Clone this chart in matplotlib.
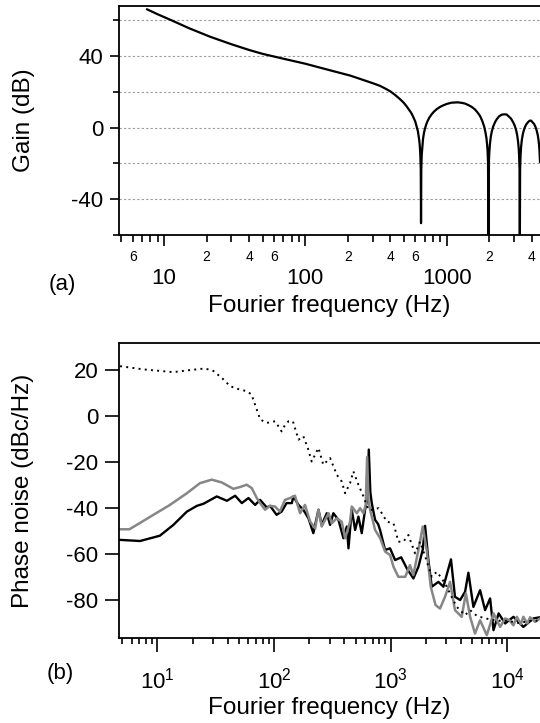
import numpy as np
import matplotlib
matplotlib.use("Agg")
import matplotlib.pyplot as plt
from matplotlib.ticker import LogLocator, MultipleLocator, FuncFormatter, NullFormatter

plt.rcParams['font.family'] = ['Liberation Sans', 'DejaVu Sans']
plt.rcParams['axes.unicode_minus'] = False

# (a) loop gain
gain_freq = [7.6, 9, 11.3, 15, 21.2, 30, 40, 50, 70, 100, 150, 207, 240, 280, 310, 338,
             370, 400, 435, 467, 495, 520, 560, 580, 600, 625, 640, 645, 650, 655, 658,
             661, 666, 680, 690, 700, 715, 730, 750, 780, 810, 850, 900, 950, 1000, 1080,
             1130, 1200, 1280, 1350, 1420, 1500, 1580, 1650, 1720, 1780, 1840, 1880,
             1910, 1930, 1945, 1960, 1974, 1990, 2000, 2020, 2050, 2080, 2130, 2200,
             2270, 2350, 2450, 2550, 2650, 2750, 2850, 2950, 3030, 3100, 3150, 3200,
             3230, 3250, 3275, 3290, 3305, 3330, 3360, 3400, 3450, 3500, 3570, 3650,
             3750, 3850, 3950, 4050, 4150, 4250, 4330, 4400, 4450, 4500, 4530, 4570]
gain_db = [66.1, 63.4, 60.0, 55.6, 50.8, 46.6, 43.4, 41.2, 38.5, 35.7, 32.0, 29.1, 27.4,
           25.6, 24.4, 23.3, 21.7, 20.2, 18.0, 15.9, 14.0, 11.9, 8.3, 5.9, 3.2, -2.0,
           -7.4, -10.3, -14.6, -23.1, -53.5, -23.2, -14.9, -6.3, -3.1, -0.9, 1.6, 3.4,
           5.3, 7.3, 8.8, 10.3, 11.6, 12.5, 13.2, 13.9, 14.0, 14.1, 13.8, 13.4, 12.6,
           11.6, 10.2, 8.5, 6.5, 3.9, 0.6, -2.7, -6.0, -9.5, -12.8, -19.6, -70, -18.4,
           -14.2, -9.5, -5.2, -2.5, 0.5, 3.1, 4.9, 6.3, 7.2, 7.4, 7.3, 6.2, 5.0, 3.0,
           1.0, -1.6, -4.2, -8.1, -11.6, -15.3, -23.7, -70, -23.9, -15.4, -10.7, -6.9,
           -4.0, -1.9, 0.1, 1.7, 2.9, 3.8, 3.9, 2.9, 2.0, 0.3, -1.7, -4.0, -6.4, -9.7,
           -12.8, -19.2]

# (b) phase noise, dotted trace
free_freq = [4.79, 7.59, 13.7, 19.1, 25.6, 30.2, 36, 42, 47.9, 58.3, 64, 71.1, 76, 86.5,
             102, 109, 116, 125, 133, 145, 162, 178, 195, 210, 240, 264, 302, 345, 380,
             406, 448, 478, 528, 583, 643, 710, 784, 838, 925, 1055, 1161, 1282, 1415,
             1616, 1783, 2000, 2245, 2477, 2735, 3020, 3350, 3680, 4333, 4786, 5500,
             6500, 8000, 10000, 12500, 16000, 19000]
free_db = [21.8, 20.4, 19.2, 20.1, 20.8, 19.7, 16.5, 13.1, 12.0, 10.9, 9.5, 2.9, -1.4,
           -2.9, -2.2, -4.4, -6.6, -3.5, -2.2, -2.2, -10.2, -8.7, -14, -19.7, -13.8,
           -21.1, -18.2, -25.5, -28.4, -33.5, -29.1, -24.0, -29.8, -34.9, -40.7, -40.7,
           -40.0, -42.2, -45.9, -46.6, -54.6, -54.6, -51.7, -59.7, -54.6, -62, -69.9,
           -67.7, -70.6, -74.2, -79, -83.0, -86.6, -84.4, -87, -88, -89, -89, -90, -89, -89]

# black trace
black_freq = [4.75, 7.1, 10.5, 13.7, 17.9, 21.8, 24.8, 32.3, 39.4, 46.4, 52.9, 60.3, 68.8,
              75.9, 86.5, 92.4, 105, 116, 128, 142, 146, 162, 178, 197, 217, 240, 256,
              283, 302, 322, 356, 393, 420, 434, 463, 495, 528, 564, 602, 630, 648, 668,
              687, 734, 780, 809, 894, 986, 1089, 1228, 1371, 1563, 1726, 1880, 1968,
              2100, 2245, 2560, 2825, 3280, 3550, 3930, 4333, 4625, 5105, 5825, 6430,
              7100, 7590, 8400, 9550, 11250, 13680, 16700, 19000]
black_db = [-53.8, -54.3, -52.0, -47.3, -41.5, -39.0, -38.1, -34.9, -36.8, -34.6, -37.8,
            -35.6, -38.6, -36.4, -39.7, -39.0, -42.9, -41.5, -37.8, -37.8, -34.9, -38.6,
            -40.7, -44.4, -50.9, -40.7, -47.3, -42.2, -47.3, -42.2, -45.1, -53.1, -48.0,
            -57.5, -40.7, -49.5, -43.7, -50.9, -40.7, -36.0, -14.5, -33.0, -37.8, -45.1,
            -47.0, -49.5, -58.2, -57.5, -62.6, -61.4, -66.2, -70.6, -65.5, -58.0, -47.7,
            -62.6, -74.2, -72.1, -74.2, -62.3, -78.6, -80.0, -76.4, -68.1, -83.0, -75.7,
            -84.4, -79.3, -93.1, -85.8, -90.2, -87.3, -91.7, -88.0, -87.5]

# gray trace
gray_freq = [4.75, 5.75, 6.65, 9.25, 12.8, 17.9, 23.2, 29.2, 35.6, 44.8, 51.1, 58.3, 64.4,
             71.1, 75.9, 83.7, 92.4, 102, 112, 124, 137, 151, 167, 184, 204, 225, 240,
             256, 293, 312, 345, 380, 406, 448, 463, 512, 546, 583, 610, 627, 645, 665,
             734, 811, 894, 986, 1055, 1161, 1330, 1460, 1560, 1726, 1880, 2030, 2200,
             2420, 2644, 2916, 3220, 3550, 4050, 4400, 4786, 5270, 5825, 6653, 7590,
             8649, 9550, 10390, 11250, 12030, 13000, 13680, 14800, 15620, 17260, 19000]
gray_db = [-49.2, -49.2, -47.3, -42.9, -38.6, -33.5, -29.1, -27.6, -28.8, -31.6, -30.8,
           -29.8, -31.3, -35.6, -37.8, -40.7, -39.0, -39.3, -41.5, -36.4, -35.6, -34.6,
           -42.2, -38.6, -45.9, -48.8, -40.7, -48.0, -42.2, -46.6, -44.4, -45.9, -53.1,
           -45.9, -39.3, -42.2, -40.0, -42.2, -38.5, -17.7, -37.0, -40.7, -49.5, -53.1,
           -58.9, -60.4, -65.5, -69.9, -69.9, -64.8, -69.1, -58.2, -48.0, -58.2, -74.2,
           -82.2, -83.7, -78.6, -72.1, -84.4, -87.3, -77.1, -87.3, -94.6, -88.8, -95.3,
           -85.8, -91.7, -88.0, -88.8, -91.0, -87.3, -90.5, -87.3, -90.2, -87.5, -89.5, -88.0]

fig = plt.figure(figsize=(5.4, 7.23), dpi=100)
ax1 = fig.add_axes([0.221, 0.675, 0.779, 0.3167])
ax2 = fig.add_axes([0.221, 0.117, 0.779, 0.408])

for ax in (ax1, ax2):
    ax.spines['right'].set_visible(False)
    for s in ('top', 'left', 'bottom'):
        ax.spines[s].set_linewidth(1.3)
    ax.set_xscale('log')

# ---- (a)
ax1.plot(gain_freq, gain_db, color='black', lw=1.6)
ax1.set_xlim(4.83, 4570)
ax1.set_ylim(-60.1, 68)
ax1.yaxis.set_major_locator(MultipleLocator(40))
ax1.yaxis.set_minor_locator(MultipleLocator(20))
ax1.grid(True, which='both', axis='y', linestyle=(0, (2, 2)), color='#9a9a9a', lw=0.8)
ax1.xaxis.set_major_locator(LogLocator(base=10))
ax1.xaxis.set_minor_locator(LogLocator(base=10, subs=range(2, 10)))
ax1.xaxis.set_major_formatter(FuncFormatter(lambda v, p: f"{v:g}"))

def minor_lab(v, p):
    m = int(round(v / 10 ** np.floor(np.log10(v) + 1e-9)))
    return str(m) if m in (2, 4, 6) else ''

ax1.xaxis.set_minor_formatter(FuncFormatter(minor_lab))
ax1.tick_params(axis='x', which='major', direction='out', length=8, width=1.2,
                labelsize=16, pad=16)
ax1.tick_params(axis='x', which='minor', direction='out', length=5, width=1.2,
                labelsize=10, pad=6)
ax1.tick_params(axis='y', which='major', direction='out', length=6.5, width=1.2,
                labelsize=16, pad=5)
ax1.tick_params(axis='y', which='minor', direction='out', length=4.5, width=1.2)
ax1.set_ylabel("Gain (dB)", fontsize=17.5)
ax1.yaxis.set_label_coords(-0.2, 0.5)
ax1.set_xlabel("Fourier frequency (Hz)", fontsize=17.5)
ax1.xaxis.set_label_coords(0.5, -0.264)

# ---- (b)
ax2.plot(black_freq, black_db, color='black', lw=1.7)
ax2.plot(gray_freq, gray_db, color='#868686', lw=1.8)
ax2.plot(free_freq, free_db, color='black', lw=1.4, linestyle=(0, (1, 2.2)))
ax2.set_xlim(4.72, 19000)
ax2.set_ylim(-96.7, 31.7)
ax2.yaxis.set_major_locator(MultipleLocator(20))
ax2.xaxis.set_major_locator(LogLocator(base=10))
ax2.xaxis.set_minor_locator(LogLocator(base=10, subs=range(2, 10)))
ax2.xaxis.set_minor_formatter(NullFormatter())
ax2.tick_params(axis='x', which='major', direction='out', length=10, width=1.2,
                labelsize=16, pad=11)
ax2.tick_params(axis='x', which='minor', direction='out', length=4.5, width=1.2)
ax2.tick_params(axis='y', which='major', direction='out', length=10, width=1.2,
                labelsize=16, pad=5)
ax2.set_ylabel("Phase noise (dBc/Hz)", fontsize=17.5)
ax2.yaxis.set_label_coords(-0.203, 0.5)
ax2.set_xlabel("Fourier frequency (Hz)", fontsize=17.5)
ax2.xaxis.set_label_coords(0.5, -0.198)

fig.text(0.115, 0.606, "(a)", fontsize=16, ha='center', va='center')
fig.text(0.111, 0.068, "(b)", fontsize=16, ha='center', va='center')

fig.savefig("out.png", dpi=100)
